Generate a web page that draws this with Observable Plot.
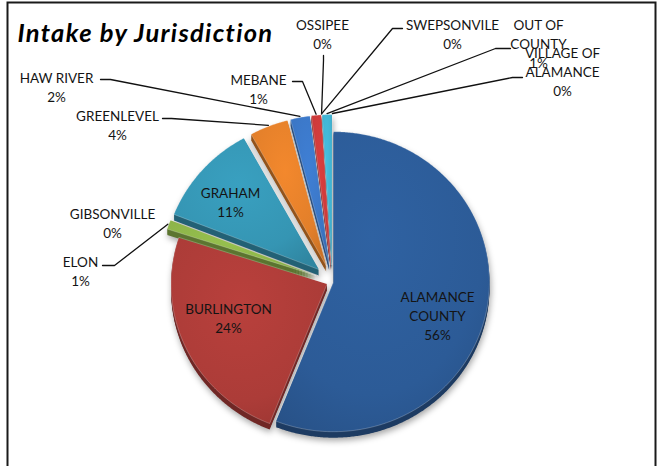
<!DOCTYPE html>
<html><head><meta charset="utf-8">
<script src="https://cdn.jsdelivr.net/npm/d3@7"></script>
<script src="https://cdn.jsdelivr.net/npm/@observablehq/plot@0.6"></script>
<style>
html,body{margin:0;padding:0;background:#fff;overflow:hidden;}
#chart svg{display:block;}
</style></head><body>
<svg width="0" height="0" style="position:absolute"><defs id="defs"></defs></svg>
<div id="chart"></div>
<script>
// ---- data ----
const categories = ["ALAMANCE COUNTY","BURLINGTON","ELON","GIBSONVILLE","GRAHAM","GREENLEVEL","HAW RIVER","MEBANE","OSSIPEE","SWEPSONVILE","OUT OF COUNTY","VILLAGE OF ALAMANCE"];
const shares = [56,24,1,0,11,4,2,1,0,0,1,0];
const pctLabels = ["56%","24%","1%","0%","11%","4%","2%","1%","0%","0%","1%","0%"];
const labelLines = [["ALAMANCE","COUNTY"],["BURLINGTON"],["ELON"],["GIBSONVILLE"],["GRAHAM"],["GREENLEVEL"],["HAW RIVER"],["MEBANE"],["OSSIPEE"],["SWEPSONVILE"],["OUT OF","COUNTY"],["VILLAGE OF","ALAMANCE"]];
const titleText = "Intake by Jurisdiction";

// ---- styles / layout ----
const W = 660, H = 466;
const geom = {cx: 332, cy: 281, rx: 156, ry: 150, depth: 6};
const explode = [1, 6, 18, 18, 18, 17, 17, 17, 17, 17, 17, 17];
const palette = ["#2c5b97","#ac3c38","#8db449","#7f63a1","#3595b3","#e27f2a","#3b76c5","#cb3a3a","#9bbb59","#8064a2","#40b2d1","#f79646"];
const lineGap = 19;
const labelLayout = [
  {x: 437, y: 297},
  {x: 228, y: 309},
  {x: 80,  y: 262, leader: [102, 265, 114, 265]},
  {x: 112, y: 214},
  {x: 230, y: 193},
  {x: 117, y: 116, leader: [162, 118, 171, 118]},
  {x: 56,  y: 78,  leader: [100, 79, 110, 79]},
  {x: 258, y: 80,  leader: [292, 81, 302, 81]},
  {x: 322, y: 25,  leader: [323, 55, 323, 60]},
  {x: 452, y: 25,  leader: [402, 28, 392, 28]},
  {x: 538, y: 25,  leader: [510, 48, 495, 48]},
  {x: 562, y: 53,  leader: [522, 77, 512, 77]}
];

// ---- gradients ----
const defs = d3.select("#defs");
palette.forEach((c, i) => {
  const g = defs.append("radialGradient").attr("id", "g" + i)
    .attr("cx", "45%").attr("cy", "35%").attr("r", "75%");
  g.append("stop").attr("offset", "0%").attr("stop-color", d3.color(c).brighter(0.2).formatHex());
  g.append("stop").attr("offset", "70%").attr("stop-color", c);
  g.append("stop").attr("offset", "100%").attr("stop-color", d3.color(c).darker(0.3).formatHex());
});

// ---- geometry from shares ----
const arcs = d3.pie().sort(null).value(d => d)(shares);
function pt(i, a, extra = 0) {
  const a0 = arcs[i].startAngle, a1 = arcs[i].endAngle;
  const mid = (a0 + a1) / 2;
  const e = explode[i];
  return [
    geom.cx + e * Math.sin(mid) + (geom.rx + extra) * Math.sin(a),
    geom.cy - e * Math.cos(mid) - (geom.ry + extra) * Math.cos(a)
  ];
}
function apex(i) {
  const mid = (arcs[i].startAngle + arcs[i].endAngle) / 2;
  return [geom.cx + explode[i] * Math.sin(mid), geom.cy - explode[i] * Math.cos(mid)];
}
const topRows = [], depthRows = [];
arcs.forEach((arc, i) => {
  if (arc.endAngle - arc.startAngle <= 0) return;
  const n = Math.max(2, Math.ceil((arc.endAngle - arc.startAngle) / (Math.PI / 360)));
  const poly = [apex(i)];
  for (let k = 0; k <= n; k++) poly.push(pt(i, arc.startAngle + (arc.endAngle - arc.startAngle) * k / n));
  poly.forEach(([x, y]) => topRows.push({key: categories[i], x, y, color: `url(#g${i})`}));
  const dark = d3.color(palette[i]).darker(1.2).formatHex();
  for (let s = 1; s <= geom.depth; s++) {
    poly.forEach(([x, y]) => depthRows.push({key: categories[i] + s, x, y: y + s, color: dark}));
  }
});

// ---- labels ----
const textRows = [];
labelLayout.forEach((L, i) => {
  const lines = [...labelLines[i], pctLabels[i]];
  lines.forEach((t, k) => textRows.push({x: L.x, y: L.y + k * lineGap, text: t}));
});
const leaderRows = [];
labelLayout.forEach((L, i) => {
  if (!L.leader) return;
  const mid = (arcs[i].startAngle + arcs[i].endAngle) / 2;
  const end = pt(i, mid, 1);
  [[L.leader[0], L.leader[1]], [L.leader[2], L.leader[3]], end]
    .forEach(([x, y]) => leaderRows.push({key: categories[i], x, y}));
});

const chart = Plot.plot({
  width: W, height: H, margin: 0,
  x: {domain: [0, W], range: [0, W], axis: null},
  y: {domain: [0, H], range: [0, H], axis: null},
  color: {type: "identity"},
  style: {background: "#fff", fontFamily: "Lato, 'DejaVu Sans', sans-serif"},
  marks: [
    Plot.line(depthRows, {x: "x", y: "y", z: "key", fill: "color", stroke: "none", curve: "linear-closed"}),
    Plot.line(topRows, {x: "x", y: "y", z: "key", fill: "color", stroke: "#ffffff", strokeOpacity: 0.3, strokeWidth: 0.8, curve: "linear-closed"}),
    Plot.line(leaderRows, {x: "x", y: "y", z: "key", stroke: "#111", strokeWidth: 1.3}),
    Plot.text(textRows, {x: "x", y: "y", text: "text", fontSize: 13.5, fill: "#141414", textAnchor: "middle", lineAnchor: "middle"}),
    Plot.text([titleText], {x: 17, y: 33, text: d => d, fontSize: 25.5, fontWeight: "bold", fontStyle: "italic", fill: "#000", textAnchor: "start", lineAnchor: "middle"}),
    Plot.frame({stroke: "#1a1a1a", strokeWidth: 2, insetTop: 2, insetLeft: 7, insetRight: 5, insetBottom: -4})
  ]
});
document.getElementById("chart").append(chart);
// soft shadow beneath the pie's depth layer, and title letter spacing
const lineGroups = d3.select(chart).selectAll("g[aria-label='line']").nodes();
if (lineGroups[0]) lineGroups[0].style.filter = "drop-shadow(1px 3px 3px rgba(0,0,0,0.35))";
const textGroups = d3.select(chart).selectAll("g[aria-label='text']").nodes();
if (textGroups[1]) d3.select(textGroups[1]).selectAll("text").attr("letter-spacing", "1.3");
</script>
</body></html>
